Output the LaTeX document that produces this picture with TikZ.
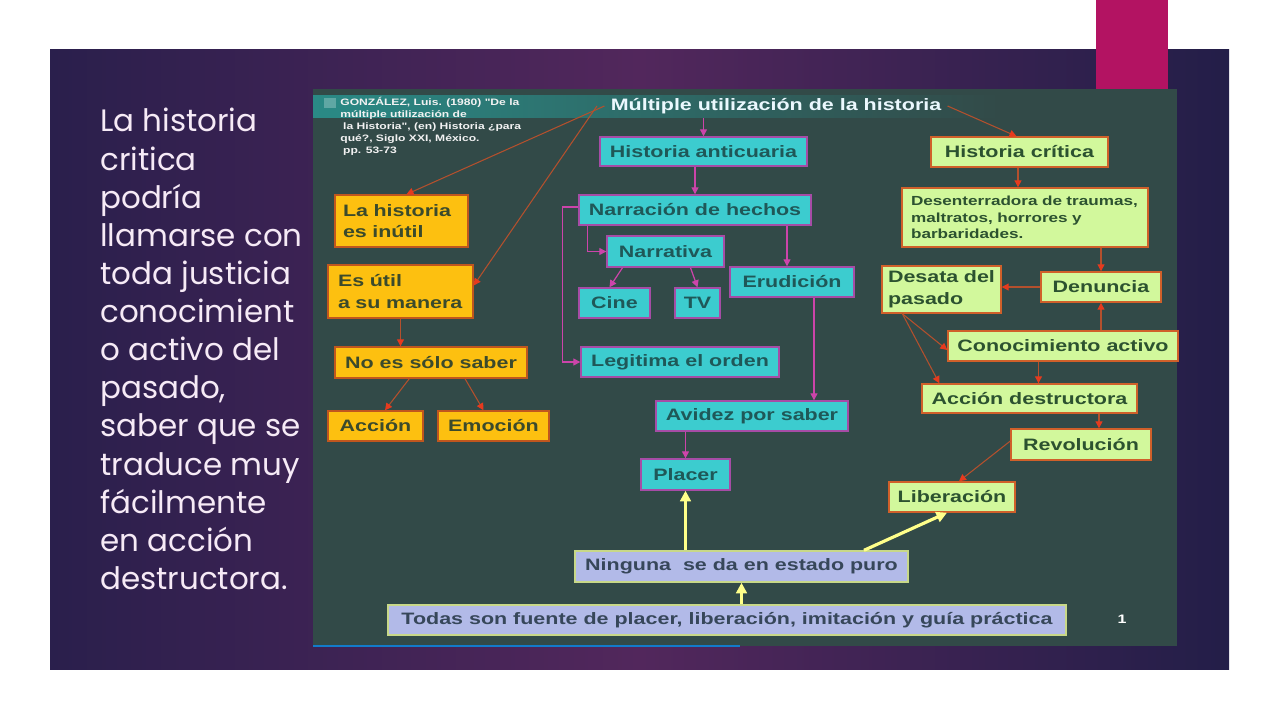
\documentclass[tikz,border=0pt]{standalone}
\usepackage{fontspec}
\setmainfont{Liberation Sans}
\newfontfamily\boxfont[FakeStretch=1.3]{Liberation Sans}
\newfontfamily\slidefont{Poppins}
\usetikzlibrary{arrows.meta}

\definecolor{slideleft}{HTML}{2A1F4C}
\definecolor{slidemid}{HTML}{52275C}
\definecolor{slideright}{HTML}{231E48}
\definecolor{slidetext}{HTML}{F6EAF6}
\definecolor{barmagenta}{HTML}{B31362}
\definecolor{panelc}{HTML}{324A48}
\definecolor{bandteal}{HTML}{2A8A86}
\definecolor{goldfill}{HTML}{FDC010}
\definecolor{goldline}{HTML}{C0561E}
\definecolor{goldtext}{HTML}{3B4A2C}
\definecolor{cyanfill}{HTML}{3CCCCF}
\definecolor{cyanline}{HTML}{A64CA6}
\definecolor{cyantext}{HTML}{1F5858}
\definecolor{greenfill}{HTML}{D2F89C}
\definecolor{greenline}{HTML}{D0602A}
\definecolor{greentext}{HTML}{2C5230}
\definecolor{lavfill}{HTML}{B2BAE8}
\definecolor{lavline}{HTML}{C8D888}
\definecolor{lavtext}{HTML}{37475A}
\definecolor{redline}{HTML}{B4502D}
\definecolor{redtip}{HTML}{E63A1E}
\definecolor{pinkline}{HTML}{CC44AA}
\definecolor{yelline}{HTML}{FFFF8A}

\begin{document}
\begin{tikzpicture}[x=0.02cm,y=-0.02cm,
  box/.style={draw, line width=0.8pt, inner sep=0pt, font=\boxfont\bfseries\fontsize{9.4}{12.3}\selectfont},
  goldbox/.style={box, fill=goldfill, draw=goldline, text=goldtext},
  cyanbox/.style={box, fill=cyanfill, draw=cyanline, text=cyantext},
  greenbox/.style={box, fill=greenfill, draw=greenline, text=greentext},
  lavbox/.style={box, fill=lavfill, draw=lavline, text=lavtext},
  redarrow/.style={draw=redline, line width=0.6pt, -{Triangle[length=4pt,width=4pt,color=redtip]}},
  pinkarrow/.style={draw=pinkline, line width=0.7pt, -{Triangle[length=4pt,width=4pt]}},
  yelarrow/.style={draw=yelline, line width=1.8pt, -{Triangle[length=6pt,width=6pt]}}]
\useasboundingbox (0,0) rectangle (1280,720);
\fill[white] (0,0) rectangle (1280,720);
% slide
\shade[left color=slideleft, right color=slideright, middle color=slidemid] (50,49) rectangle (1229,669);
\fill[barmagenta] (1096,0) rectangle (1168,89);
\fill[panelc] (313,89) rectangle (1177,646);
\draw[cyan!60!blue, line width=0.6pt] (313,646) -- (740,646);
\node[anchor=north west, align=left, inner sep=0, text=slidetext, font=\slidefont\fontsize{17.6}{21.7}\selectfont] (lead) at (100,108)
  {La historia\\critica\\podría\\llamarse con\\toda justicia\\conocimient\\o activo del\\pasado,\\saber que se\\traduce muy\\fácilmente\\en acción\\destructora.};

% title band and reference
\node[minimum width=13.74cm, minimum height=0.46cm, inner sep=0, left color=bandteal, right color=panelc] (band) at (656.5,106.5) {};
\fill[bandteal!75!white] (324,98) rectangle (336,108);
\node[text=white!92!cyan, inner xsep=0.12cm, font=\boxfont\bfseries\fontsize{9.4}{11}\selectfont] (title) at (776,106) {Múltiple utilización de la historia};
\node[anchor=north west, align=left, inner sep=0, text=white!90!gray, font=\boxfont\bfseries\fontsize{5.3}{6.8}\selectfont] (cite) at (340,97)
  {GONZÁLEZ, Luis. (1980) "De la\\múltiple utilización de\\\hspace*{.3em}la Historia", (en) Historia ¿para\\qué?, Siglo XXI, México.\\\hspace*{.3em}pp. 53-73};
\node[font=\boxfont\bfseries\fontsize{7}{8}\selectfont, text=white] (pagenum) at (1122,619) {1};

% left column
\node[goldbox, minimum width=2.66cm, minimum height=1.04cm, text width=2.34cm, align=left] (inutil) at (401.5,221) {La historia\\es inútil};
\node[goldbox, minimum width=2.9cm, minimum height=1.06cm, text width=2.5cm, align=left] (util) at (400.5,291.5) {Es útil\\a su manera};
\node[goldbox, minimum width=3.84cm, minimum height=0.62cm] (nosolo) at (431,362.5) {No es sólo saber};
\node[goldbox, minimum width=1.9cm, minimum height=0.6cm] (accion) at (375.5,426) {Acción};
\node[goldbox, minimum width=2.22cm, minimum height=0.6cm] (emocion) at (493.5,426) {Emoción};

% middle column
\node[cyanbox, minimum width=4.14cm, minimum height=0.58cm] (anticuaria) at (703.5,151.5) {Historia anticuaria};
\node[cyanbox, minimum width=4.64cm, minimum height=0.6cm] (narracion) at (695,210) {Narración de hechos};
\node[cyanbox, minimum width=2.34cm, minimum height=0.62cm] (narrativa) at (665.5,251.5) {Narrativa};
\node[cyanbox, minimum width=2.48cm, minimum height=0.6cm] (erudicion) at (792,282) {Erudición};
\node[cyanbox, minimum width=1.42cm, minimum height=0.6cm] (cine) at (614.5,303) {Cine};
\node[cyanbox, minimum width=0.9cm, minimum height=0.6cm] (tv) at (697.5,303) {TV};
\node[cyanbox, minimum width=3.96cm, minimum height=0.6cm] (legitima) at (680,362) {Legitima el orden};
\node[cyanbox, minimum width=3.84cm, minimum height=0.6cm] (avidez) at (752,416) {Avidez por saber};
\node[cyanbox, minimum width=1.78cm, minimum height=0.62cm] (placer) at (685.5,474.5) {Placer};

% right column
\node[greenbox, minimum width=3.54cm, minimum height=0.6cm] (critica) at (1019.5,152) {Historia crítica};
\node[greenbox, minimum width=4.92cm, minimum height=1.18cm, text width=4.56cm, align=left, font=\boxfont\bfseries\fontsize{7.5}{9.5}\selectfont] (desent) at (1025,217.5) {Desenterradora de traumas,\\maltratos, horrores y\\barbaridades.};
\node[greenbox, minimum width=2.4cm, minimum height=0.6cm] (denuncia) at (1101,287) {Denuncia};
\node[greenbox, minimum width=2.38cm, minimum height=0.94cm, text width=2.14cm, align=left] (desata) at (941.5,289.5) {Desata del\\pasado};
\node[greenbox, minimum width=4.6cm, minimum height=0.6cm] (conoc) at (1063,346) {Conocimiento activo};
\node[greenbox, minimum width=4.3cm, minimum height=0.58cm] (destruct) at (1029.5,398.5) {Acción destructora};
\node[greenbox, minimum width=2.8cm, minimum height=0.62cm] (revolucion) at (1081,444.5) {Revolución};
\node[greenbox, minimum width=2.52cm, minimum height=0.6cm] (liberacion) at (952,497) {Liberación};

% bottom
\node[lavbox, minimum width=6.66cm, minimum height=0.62cm] (ninguna) at (741.5,566.5) {Ninguna\ \ se da en estado puro};
\node[lavbox, minimum width=13.56cm, minimum height=0.6cm] (todas) at (727,620) {Todas son fuente de placer, liberación, imitación y guía práctica};

% connectors
\draw[redarrow] (title.west) -- ([xshift=0.1cm]inutil.north);
\draw[redarrow] ([xshift=-0.15cm]title.west) -- ([yshift=0.12cm]util.east);
\draw[redarrow] (util.south) -- (util.south |- nosolo.north);
\draw[redarrow] ([xshift=1.5cm]nosolo.south west) -- ([xshift=0.19cm]accion.north);
\draw[redarrow] ([xshift=0.68cm]nosolo.south) -- ([xshift=-0.2cm]emocion.north);

\draw[pinkarrow] (anticuaria.north |- band.south) -- (anticuaria.north);
\draw[pinkarrow] (narracion.north |- anticuaria.south) -- (narracion.north);
\draw[pinkarrow] ([yshift=0.06cm]narracion.west) -- ++(-16,0) |- (legitima.west);
\draw[pinkarrow] ([xshift=0.18cm]narracion.south west) |- (narrativa.west);
\draw[pinkarrow] ([xshift=-0.1cm]erudicion.north |- narracion.south) -- ([xshift=-0.1cm]erudicion.north);
\draw[pinkarrow] ([xshift=-0.86cm]narrativa.south) -- ([xshift=-0.1cm]cine.north);
\draw[pinkarrow] ([xshift=0.5cm]narrativa.south) -- (tv.north);
\draw[pinkarrow] ([xshift=0.44cm]erudicion.south) -- ([xshift=0.44cm]erudicion.south |- avidez.north);
\draw[pinkarrow] (placer.north |- avidez.south) -- (placer.north);

\draw[redarrow] (title.east) -- ([xshift=-0.06cm]critica.north);
\draw[redarrow] ([xshift=-0.03cm]critica.south) -- ([xshift=-0.03cm]critica.south |- desent.north);
\draw[redarrow] (denuncia.north |- desent.south) -- (denuncia.north);
\draw[redarrow] (denuncia.west) -- (denuncia.west -| desata.east);
\draw[redarrow] (denuncia.south |- conoc.north) -- (denuncia.south);
\draw[redarrow] ([xshift=0.42cm]desata.south west) -- ([yshift=-0.08cm]conoc.west);
\draw[redarrow] ([xshift=0.42cm]desata.south west) -- ([xshift=0.36cm]destruct.north west);
\draw[redarrow] ([xshift=0.18cm]destruct.north |- conoc.south) -- ([xshift=0.18cm]destruct.north);
\draw[redarrow] ([xshift=0.36cm]revolucion.north |- destruct.south) -- ([xshift=0.36cm]revolucion.north);
\draw[redarrow] ([yshift=0.07cm]revolucion.west) -- ([xshift=0.14cm]liberacion.north);

\draw[yelarrow] (placer.south |- ninguna.north) -- (placer.south);
\draw[yelarrow] ([xshift=2.45cm]ninguna.north) -- ([xshift=-0.1cm]liberacion.south);
\draw[yelarrow] (ninguna.south |- todas.north) -- (ninguna.south);
\end{tikzpicture}
\end{document}
